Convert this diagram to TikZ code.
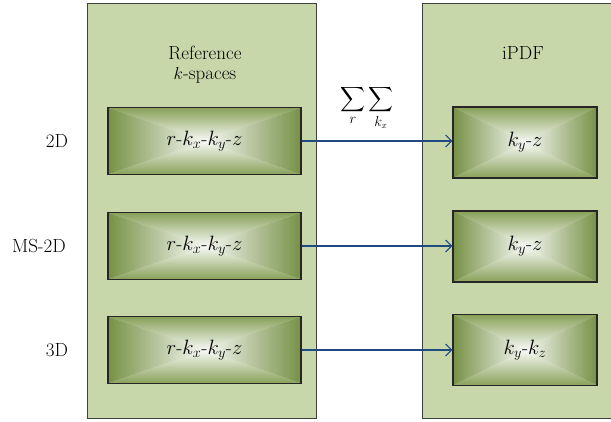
\documentclass[tikz,border=0pt]{standalone}
\usepackage{exscale}
\usetikzlibrary{arrows.meta}
\definecolor{panelgreen}{RGB}{200,215,170}
\definecolor{sidegreen}{RGB}{118,145,70}
\definecolor{capgreen}{RGB}{135,160,88}
\definecolor{arrowblue}{RGB}{31,73,128}
\tikzset{
  panel/.style={draw=black!75, line width=0.8pt, fill=panelgreen, inner sep=0pt},
  gradbox/.style={draw=black!85, line width=1.2pt, inner sep=0pt, font=\fontsize{20}{24}\selectfont,
    path picture={
      \coordinate (gnw) at (path picture bounding box.north west);
      \coordinate (gne) at (path picture bounding box.north east);
      \coordinate (gsw) at (path picture bounding box.south west);
      \coordinate (gse) at (path picture bounding box.south east);
      \coordinate (gc) at (path picture bounding box.center);
      \shade[left color=sidegreen, right color=white!95!sidegreen] (gnw) -- (gc) -- (gsw) -- cycle;
      \shade[right color=sidegreen, left color=white!95!sidegreen] (gne) -- (gc) -- (gse) -- cycle;
      \shade[top color=capgreen, bottom color=white!95!capgreen] (gnw) -- (gc) -- (gne) -- cycle;
      \shade[bottom color=capgreen, top color=white!95!capgreen] (gsw) -- (gc) -- (gse) -- cycle;
    }},
  refbox/.style={gradbox, minimum width=193pt, minimum height=67pt},
  pdfbox/.style={gradbox, minimum width=144pt, minimum height=71pt},
  rowlabel/.style={font=\fontsize{19}{22}\selectfont},
  title/.style={font=\fontsize{19}{20}\selectfont, align=center},
  flow/.style={draw=arrowblue, line width=1.1pt, -{Straight Barb[length=6pt,width=12pt]}}
}
\begin{document}
\begin{tikzpicture}[x=1pt,y=1pt]
\useasboundingbox (0,0) rectangle (611,-421);

% panels
\node[panel, minimum width=229pt, minimum height=415pt] (refpanel) at (201.5,-210.5) {};
\node[panel, minimum width=200pt, minimum height=415pt] (pdfpanel) at (522,-210.5) {};

\node[title] (reftitle) at (205,-65) {Reference\\$k$-spaces};
\node[title] (pdftitle) at (523,-53) {iPDF};

% reference k-spaces
\node[refbox] (ref2d) at (204.5,-141) {$r$-$k_x$-$k_y$-$z$};
\node[refbox] (refms) at (204.5,-246) {$r$-$k_x$-$k_y$-$z$};
\node[refbox] (ref3d) at (204.5,-350) {$r$-$k_x$-$k_y$-$z$};

% iPDF
\node[pdfbox] (pdf2d) at (525,-142.5) {$k_y$-$z$};
\node[pdfbox] (pdfms) at (525,-246.5) {$k_y$-$z$};
\node[pdfbox] (pdf3d) at (525,-350) {$k_y$-$k_z$};

% row labels
\node[rowlabel] (lab2d) at (57,-141.5) {2D};
\node[rowlabel] (labms) at (39,-246.5) {MS-2D};
\node[rowlabel] (lab3d) at (57,-350.5) {3D};

% arrows
\draw[flow] (ref2d.east) -- (ref2d.east -| pdf2d.west);
\draw[flow] (refms.east) -- (refms.east -| pdfms.west);
\draw[flow] (ref3d.east) -- (ref3d.east -| pdf3d.west);

\node[font=\fontsize{19}{22}\selectfont] (sumlabel) at (367,-108) {$\displaystyle\sum_r\sum_{k_x}$};

\end{tikzpicture}
\end{document}
